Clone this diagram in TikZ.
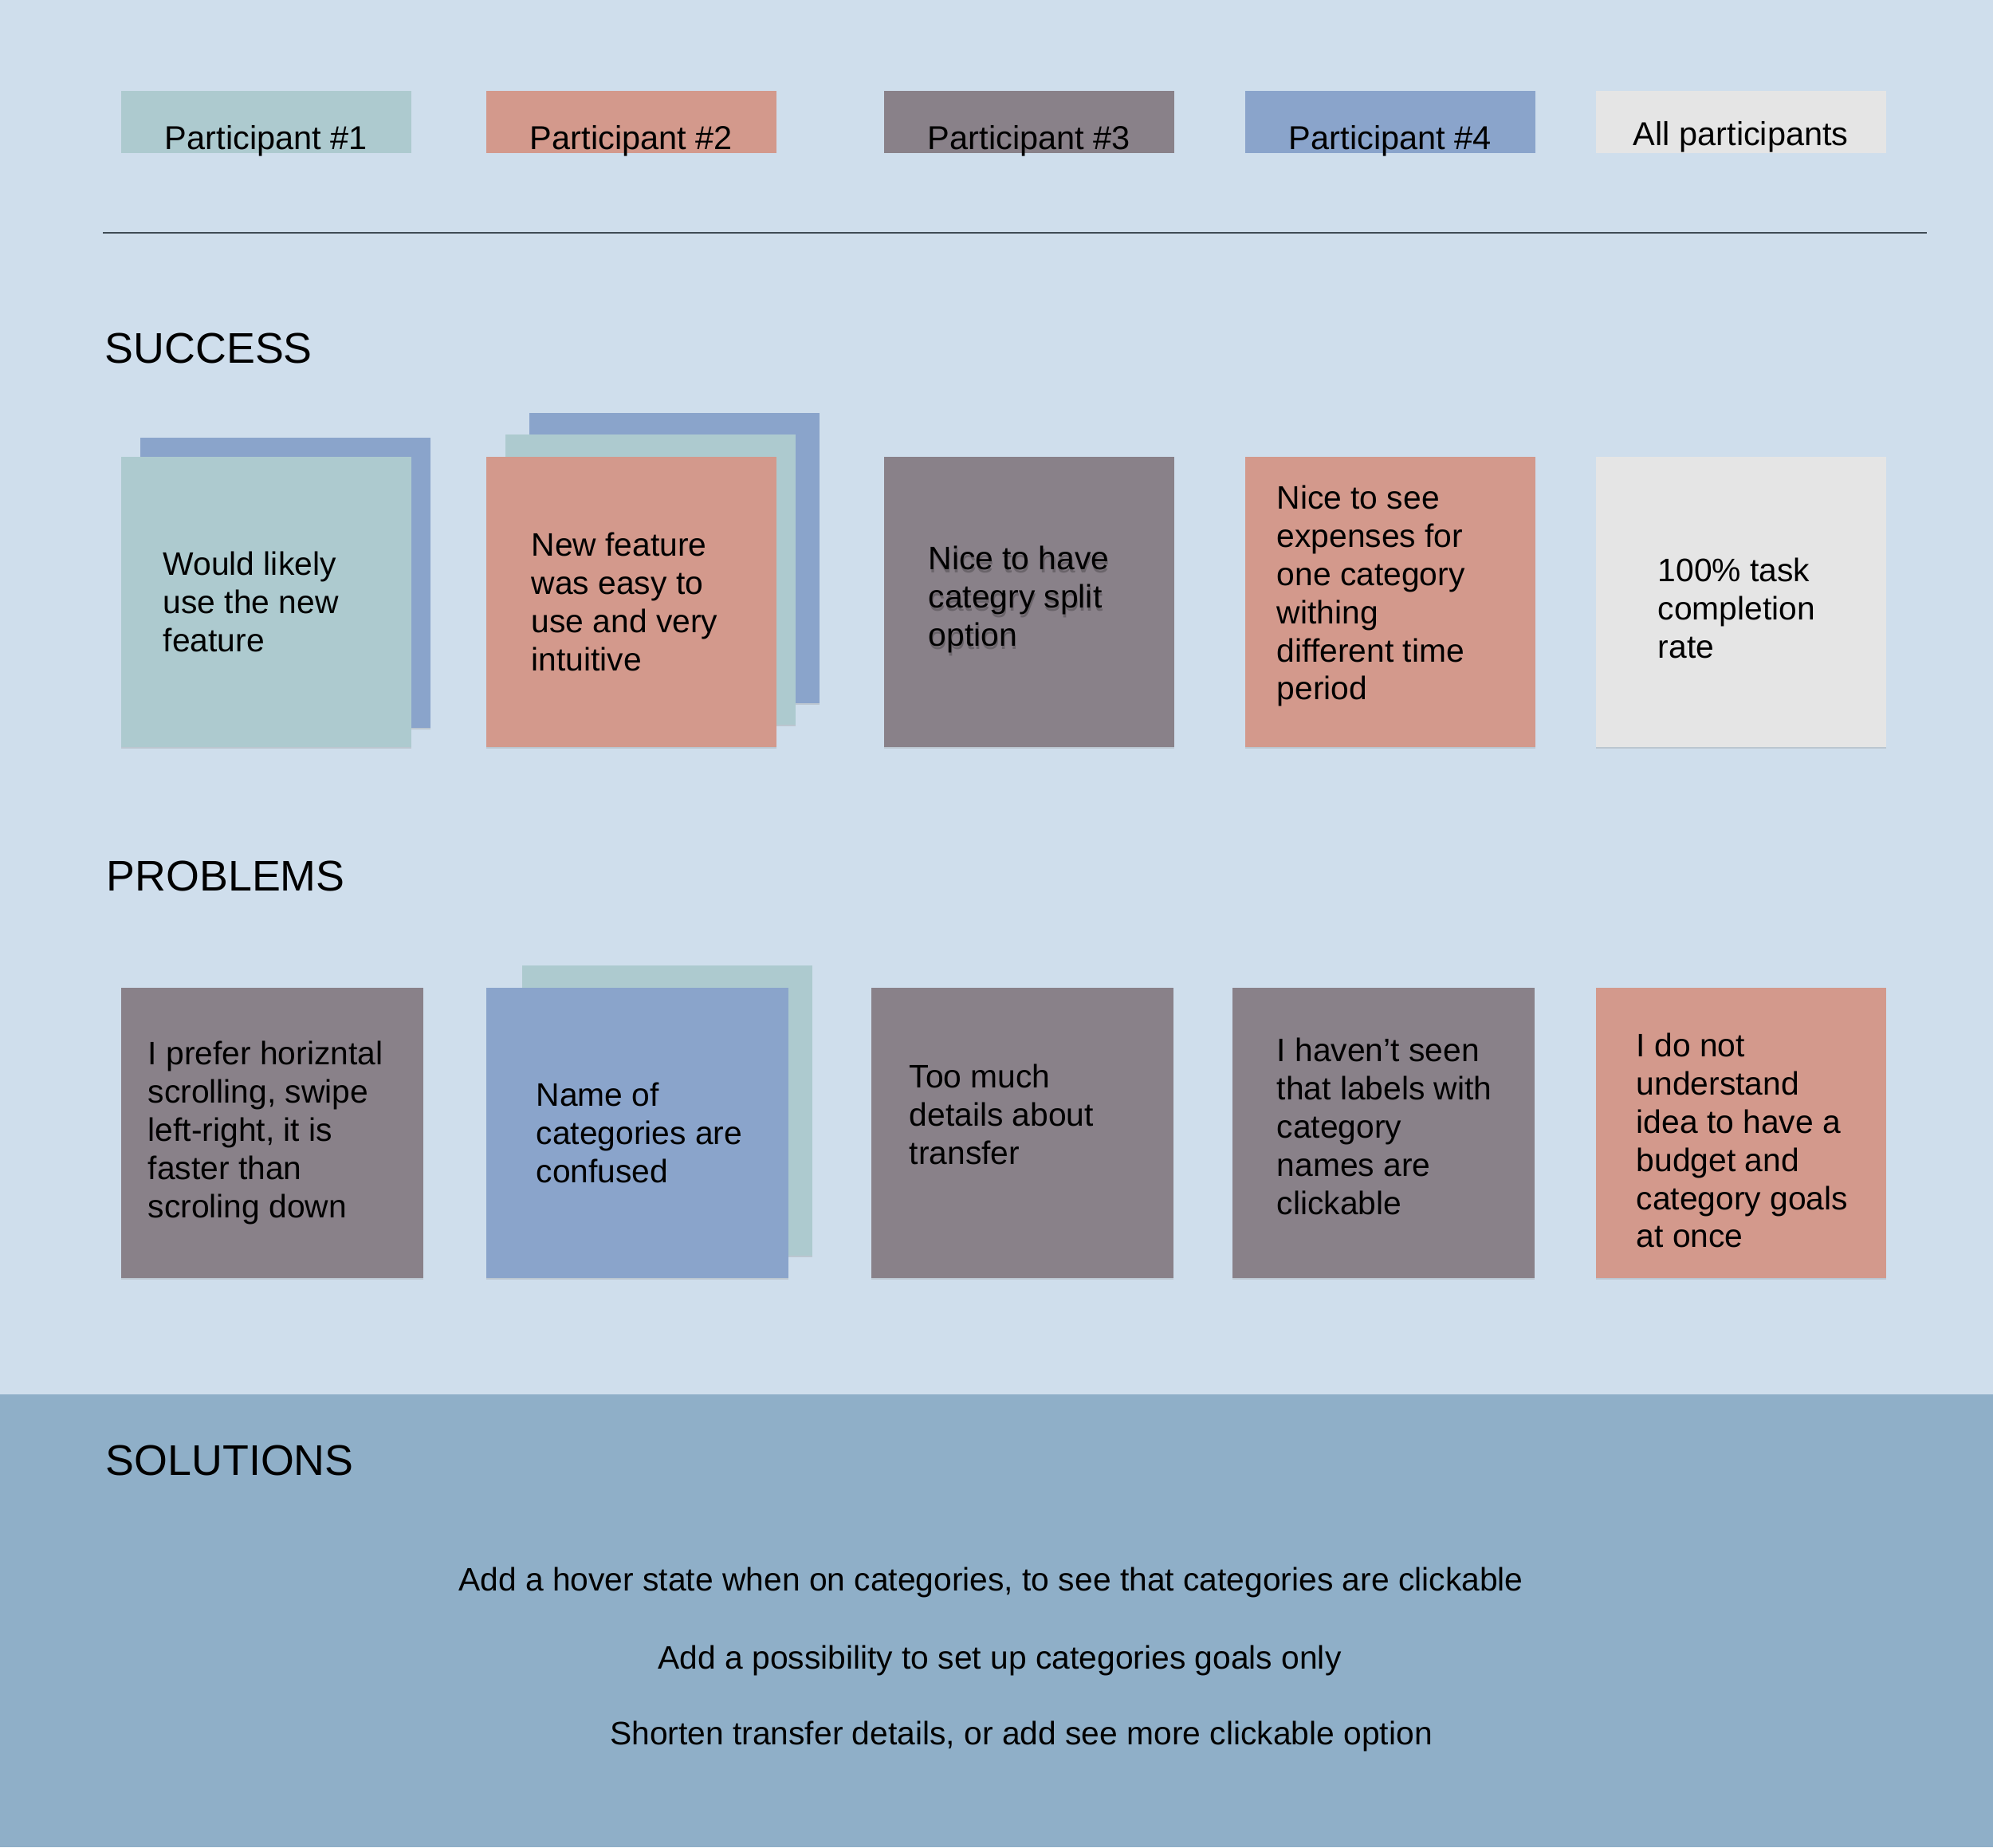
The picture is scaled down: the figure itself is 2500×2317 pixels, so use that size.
\documentclass[tikz,border=0pt]{standalone}
\usepackage{fontspec}
\setmainfont{Liberation Sans}
\usetikzlibrary{positioning,shadows}
\definecolor{Sky}{HTML}{CFDEEC}
\definecolor{Steel}{HTML}{8FAFC8}
\definecolor{Sage}{HTML}{ADCACF}
\definecolor{Salmon}{HTML}{D3998C}
\definecolor{Mauve}{HTML}{898189}
\definecolor{Cornflower}{HTML}{8AA4CB}
\definecolor{Silver}{HTML}{E5E5E5}
\definecolor{Rule}{HTML}{3F4B55}

\begin{document}
\begin{tikzpicture}[x=0.01cm,y=-0.01cm,
    card/.style={anchor=north west,inner sep=0pt,minimum width=3.64cm,minimum height=3.64cm,
                 drop shadow={shadow xshift=0pt,shadow yshift=-0.7pt,opacity=0.25}},
    widecard/.style={card,minimum width=3.79cm},
    legbox/.style={anchor=north west,inner sep=0pt,minimum width=3.64cm,minimum height=0.78cm},
    legtext/.style={anchor=base,inner sep=0pt,font=\fontsize{11.8}{13.6}\selectfont},
    note/.style={align=left,inner sep=0pt,font=\fontsize{11.6}{13.6}\selectfont},
    heading/.style={anchor=base west,inner sep=0pt,font=\fontsize{15.3}{20}\selectfont},
    solution/.style={anchor=base,inner sep=0pt,font=\fontsize{11.6}{13.6}\selectfont}
  ]
    \useasboundingbox (0,0) rectangle (2500,2317);
    \fill[Sky] (0,0) rectangle (2500,2317);
    \fill[Steel] (0,1749) rectangle (2500,2317);

    % legend
    \node[legbox,fill=Sage] (l1) at (151,113) {};
    \node[legbox,fill=Salmon] (l2) at (609,113) {};
    \node[legbox,fill=Mauve] (l3) at (1108,113) {};
    \node[legbox,fill=Cornflower] (l4) at (1561,113) {};
    \node[legbox,fill=Silver] (l5) at (2001,113) {};
    \node[legtext] (l1t) at ([yshift=0.05cm]l1.south) {Participant \#1};
    \node[legtext] (l2t) at ([yshift=0.05cm]l2.south) {Participant \#2};
    \node[legtext] (l3t) at ([yshift=0.05cm]l3.south) {Participant \#3};
    \node[legtext] (l4t) at ([yshift=0.05cm]l4.south) {Participant \#4};
    \node[legtext] (l5t) at ([yshift=0.10cm]l5.south) {All participants};

    \coordinate (ruleL) at (129,292);
    \coordinate (ruleR) at (2417,292);
    \draw[Rule,line width=0.6pt] (ruleL) -- (ruleR);

    % success
    \node[heading] (succ) at (131,455) {SUCCESS};
    \node[card,fill=Cornflower] (s1b) at (175,548) {};
    \node[card,fill=Sage] (s1) at (151,572) {};
    \node[card,fill=Cornflower] (s2c) at (663,517) {};
    \node[card,fill=Sage] (s2b) at (633,544) {};
    \node[card,fill=Salmon] (s2) at (609,572) {};
    \node[card,fill=Mauve] (s3) at (1108,572) {};
    \node[card,fill=Salmon] (s4) at (1561,572) {};
    \node[card,fill=Silver] (s5) at (2001,572) {};
    \node[note,right=0.53cm of s1.west] (s1t) {Would likely\\use the new\\feature};
    \node[note,right=0.57cm of s2.west] (s2t) {New feature\\was easy to\\use and very\\intuitive};
    \node[note,right=0.57cm of s3.west,yshift=-0.01cm,opacity=0.22] (s3s) {Nice to have\\categry split\\option};
    \node[note,right=0.56cm of s3.west,yshift=0.03cm] (s3t) {Nice to have\\categry split\\option};
    \node[note,right=0.40cm of s4.west,yshift=0.07cm] (s4t) {Nice to see\\expenses for\\one category\\withing\\different time\\period};
    \node[note,right=0.78cm of s5.west,yshift=-0.08cm] (s5t) {100\% task\\completion\\rate};

    % problems
    \node[heading] (prob) at (133,1117) {PROBLEMS};
    \node[widecard,fill=Mauve] (p1) at (151,1238) {};
    \node[card,fill=Sage] (p2b) at (654,1210) {};
    \node[widecard,fill=Cornflower] (p2) at (609,1238) {};
    \node[widecard,fill=Mauve] (p3) at (1092,1238) {};
    \node[widecard,fill=Mauve] (p4) at (1545,1238) {};
    \node[card,fill=Salmon] (p5) at (2001,1238) {};
    \node[note,right=0.34cm of p1.west] (p1t) {I prefer horizntal\\scrolling, swipe\\left-right, it is\\faster than\\scroling down};
    \node[note,right=0.63cm of p2.west] (p2t) {Name of\\categories are\\confused};
    \node[note,right=0.48cm of p3.west,yshift=0.23cm] (p3t) {Too much\\details about\\transfer};
    \node[note,right=0.56cm of p4.west,yshift=0.08cm] (p4t) {I haven’t seen\\that labels with\\category\\names are\\clickable};
    \node[note,right=0.51cm of p5.west,yshift=-0.10cm] (p5t) {I do not\\understand\\idea to have a\\budget and\\category goals\\at once};

    % solutions
    \node[heading] (sol) at (132,1850) {SOLUTIONS};
    \node[solution] (sol1) at (1243,1995) {Add a hover state when on categories, to see that categories are clickable};
    \node[solution] (sol2) at (1254,2093) {Add a possibility to set up categories goals only};
    \node[solution] (sol3) at (1281,2188) {Shorten transfer details, or add see more clickable option};
\end{tikzpicture}
\end{document}
